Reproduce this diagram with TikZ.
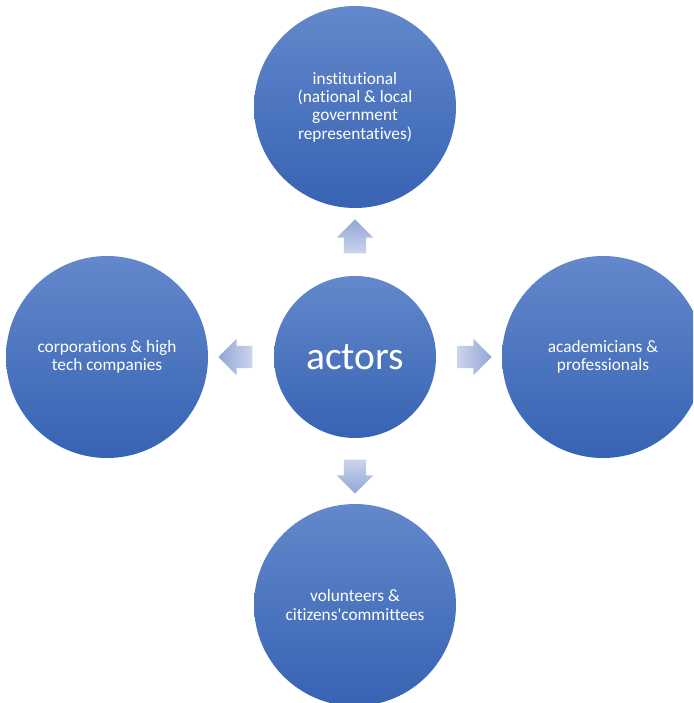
\documentclass[tikz,border=0pt]{standalone}
\usepackage{fontspec}
\setmainfont{Carlito}[Ligatures=NoCommon]
\usetikzlibrary{shapes.arrows, positioning, calc}

\definecolor{circtop}{RGB}{99,136,203}
\definecolor{circbot}{RGB}{55,99,179}
\definecolor{arrhead}{RGB}{146,166,214}
\definecolor{arrtail}{RGB}{203,212,236}

\begin{document}
\begin{tikzpicture}[
    x=1pt, y=1pt,
    actorcirc/.style={circle, minimum size=202pt, inner sep=0pt, align=center, text=white,
        top color=circtop, bottom color=circbot, font=\fontsize{17.3}{18.4}\selectfont},
    hubcirc/.style={actorcirc, minimum size=162pt, font=\fontsize{39.5}{41}\selectfont},
    blockarrow/.style={single arrow, single arrow head extend=7pt, inner xsep=0pt, inner ysep=11pt,
        minimum height=34pt}
]
    \clip (0,0) rectangle (693,-703);
    \fill[white] (0,0) rectangle (693,-703);

    % --- hub ---
    \node[hubcirc] (actors) at (355,-357) {actors};

    % --- actor groups ---
    \node[actorcirc] (inst) at (355,-107) {institutional\\(national \& local\\government\\representatives)};
    \node[actorcirc] (corp) at (107,-357) {corporations \& high\\tech companies};
    \node[actorcirc] (acad) at (603,-357) {academicians \&\\professionals};
    \node[actorcirc] (volu) at (355,-605) {volunteers \&\\citizens\textquotesingle committees};

    % block arrows between hub and groups
    \node[blockarrow, rotate=90, top color=arrhead, bottom color=arrtail] (a1) at ($(actors.north)!0.5!(inst.south)$) {};
    \node[blockarrow, rotate=180, left color=arrhead, right color=arrtail] (a2) at ($(actors.west)!0.5!(corp.east)$) {};
    \node[blockarrow, left color=arrtail, right color=arrhead] (a3) at ($(actors.east)!0.5!(acad.west)$) {};
    \node[blockarrow, rotate=-90, top color=arrtail, bottom color=arrhead] (a4) at ($(actors.south)!0.5!(volu.north)$) {};

\end{tikzpicture}
\end{document}
